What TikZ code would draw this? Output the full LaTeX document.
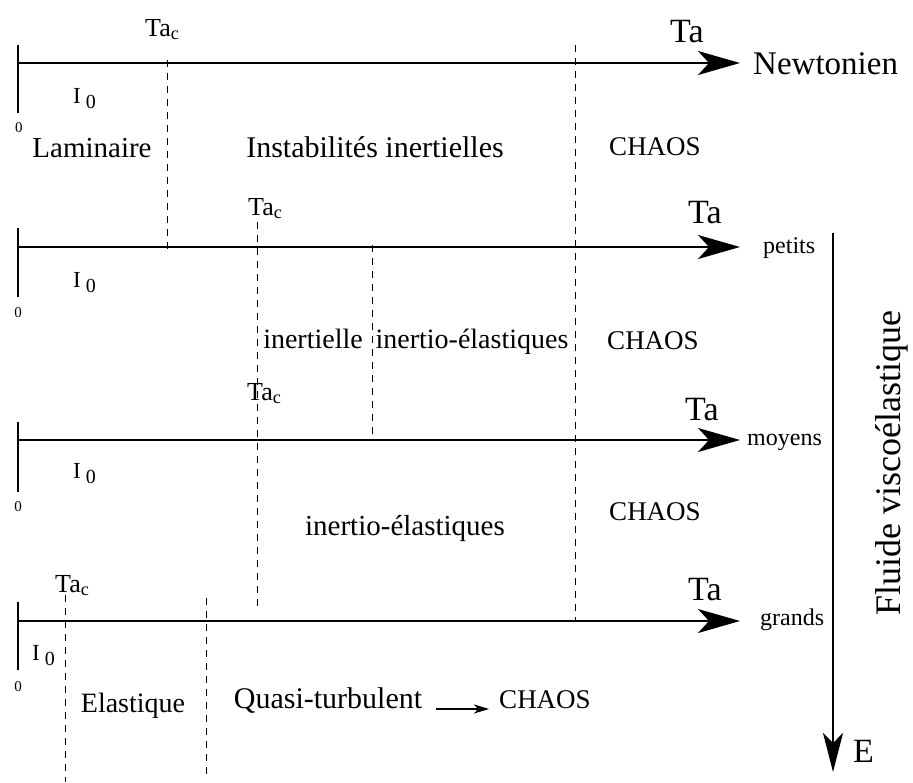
\documentclass[tikz,border=0pt]{standalone}
\usepackage{fontspec}
\setmainfont{Liberation Serif}
\usetikzlibrary{arrows.meta}
\newcommand\myfs[1]{\fontsize{#1}{#1}\selectfont}
\begin{document}
\begin{tikzpicture}[x=1pt,y=-1pt,
  axisline/.style={line width=2pt,-{Stealth[length=42pt,width=24pt,inset=11pt]}},
  eaxis/.style={line width=1.6pt,-{Stealth[length=39pt,width=20pt,inset=10pt]}},
  smallarrow/.style={line width=1.4pt,-{Stealth[length=15pt,width=9pt,inset=4pt]}},
  tickline/.style={line width=1.4pt},
  dashline/.style={line width=1pt,dash pattern=on 7pt off 6pt},
  lbl/.style={inner sep=0pt,anchor=base west},
  ctext/.style={inner sep=0pt,anchor=base},
  zero/.style={inner sep=0pt,anchor=center,font=\myfs{15}},
  izero/.style={inner sep=0pt,anchor=base west,font=\myfs{23}},
  tac/.style={inner sep=0pt,anchor=base west,font=\myfs{26}},
  talbl/.style={inner sep=0pt,anchor=base west,font=\myfs{34}},
  elbl/.style={inner sep=0pt,anchor=base west,font=\myfs{24}}
]
\useasboundingbox (0,0) rectangle (913,782);

% axis coordinates
\coordinate (a1s) at (18,63);  \coordinate (a1e) at (740,63);
\coordinate (a2s) at (18,247); \coordinate (a2e) at (740,247);
\coordinate (a3s) at (18,440); \coordinate (a3e) at (740,440);
\coordinate (a4s) at (18,621); \coordinate (a4e) at (740,621);
\coordinate (k1t) at (18,45);  \coordinate (k1b) at (18,113);
\coordinate (k2t) at (18,228); \coordinate (k2b) at (18,297);
\coordinate (k3t) at (18,422); \coordinate (k3b) at (18,492);
\coordinate (k4t) at (18,602); \coordinate (k4b) at (18,670);
% dashed separators
\coordinate (d1t) at (167,60);  \coordinate (d1b) at (167,250);
\coordinate (d2t) at (575,45);  \coordinate (d2b) at (575,620);
\coordinate (d3t) at (257,222); \coordinate (d3b) at (257,612);
\coordinate (d4t) at (372,245); \coordinate (d4b) at (372,441);
\coordinate (d5t) at (65,595);  \coordinate (d5b) at (65,782);
\coordinate (d6t) at (206,598); \coordinate (d6b) at (206,778);
% E axis
\coordinate (ve1) at (833,233); \coordinate (ve2) at (833,772);

\draw[dashline] (d1t) -- (d1b);
\draw[dashline] (d2t) -- (d2b);
\draw[dashline] (d3t) -- (d3b);
\draw[dashline] (d4t) -- (d4b);
\draw[dashline] (d5t) -- (d5b);
\draw[dashline] (d6t) -- (d6b);

\draw[axisline] (a1s) -- (a1e);
\draw[axisline] (a2s) -- (a2e);
\draw[axisline] (a3s) -- (a3e);
\draw[axisline] (a4s) -- (a4e);
\draw[tickline] (k1t) -- (k1b);
\draw[tickline] (k2t) -- (k2b);
\draw[tickline] (k3t) -- (k3b);
\draw[tickline] (k4t) -- (k4b);
\draw[eaxis] (ve1) -- (ve2);

% Row 1
\node[tac] (tac1) at (145,36) {Ta\textsubscript{c}};
\node[talbl] (ta1) at (670,42) {Ta};
\node[lbl,font=\myfs{33}] (newt) at (753,74) {Newtonien};
\node[zero] (z1) at (19,128) {0};
\node[izero] (io1) at (73,103) {I\hspace{5pt}\raisebox{-5pt}{\myfs{20}0}};
\node[ctext,font=\myfs{29}] (lam) at (92,157) {Laminaire};
\node[ctext,font=\myfs{30}] (inst) at (375,157) {Instabilités inertielles};
\node[ctext,font=\myfs{27}] (ch1) at (655,155) {CHAOS};

% Row 2
\node[tac] (tac2) at (248,215) {Ta\textsubscript{c}};
\node[talbl] (ta2) at (688,223) {Ta};
\node[elbl] (pet) at (763,253) {petits};
\node[zero] (z2) at (18,313) {0};
\node[izero] (io2) at (73,287) {I\hspace{5pt}\raisebox{-5pt}{\myfs{20}0}};
\node[ctext,font=\myfs{28}] (inl) at (313,348) {inertielle};
\node[ctext,font=\myfs{28}] (ie2) at (472,348) {inertio-élastiques};
\node[ctext,font=\myfs{27}] (ch2) at (653,349) {CHAOS};

% Row 3
\node[tac] (tac3) at (247,400) {Ta\textsubscript{c}};
\node[talbl] (ta3) at (685,420) {Ta};
\node[elbl] (moy) at (747,445) {moyens};
\node[zero] (z3) at (18,507) {0};
\node[izero] (io3) at (73,478) {I\hspace{5pt}\raisebox{-5pt}{\myfs{20}0}};
\node[ctext,font=\myfs{29}] (ie3) at (405,535) {inertio-élastiques};
\node[ctext,font=\myfs{27}] (ch3) at (655,520) {CHAOS};

% Row 4
\node[tac] (tac4) at (55,592) {Ta\textsubscript{c}};
\node[talbl] (ta4) at (688,600) {Ta};
\node[elbl] (gra) at (760,625) {grands};
\node[zero] (z4) at (18,687) {0};
\node[izero] (io4) at (32,660) {I\hspace{5pt}\raisebox{-5pt}{\myfs{20}0}};
\node[ctext,font=\myfs{28}] (ela) at (133,712) {Elastique};
\node[ctext,font=\myfs{30}] (qt) at (328,708) {Quasi-turbulent};
\node[ctext,font=\myfs{27}] (ch4) at (545,708) {CHAOS};
\draw[smallarrow] ([xshift=14pt,yshift=-1pt]qt.base east) -- ([xshift=-10pt,yshift=-1pt]ch4.base west);

% E axis labels
\node[lbl,font=\myfs{34}] (elab) at (853,762) {E};
\node[inner sep=0pt,font=\myfs{36},rotate=90] (fv) at (892,463) {Fluide viscoélastique};
\end{tikzpicture}
\end{document}
